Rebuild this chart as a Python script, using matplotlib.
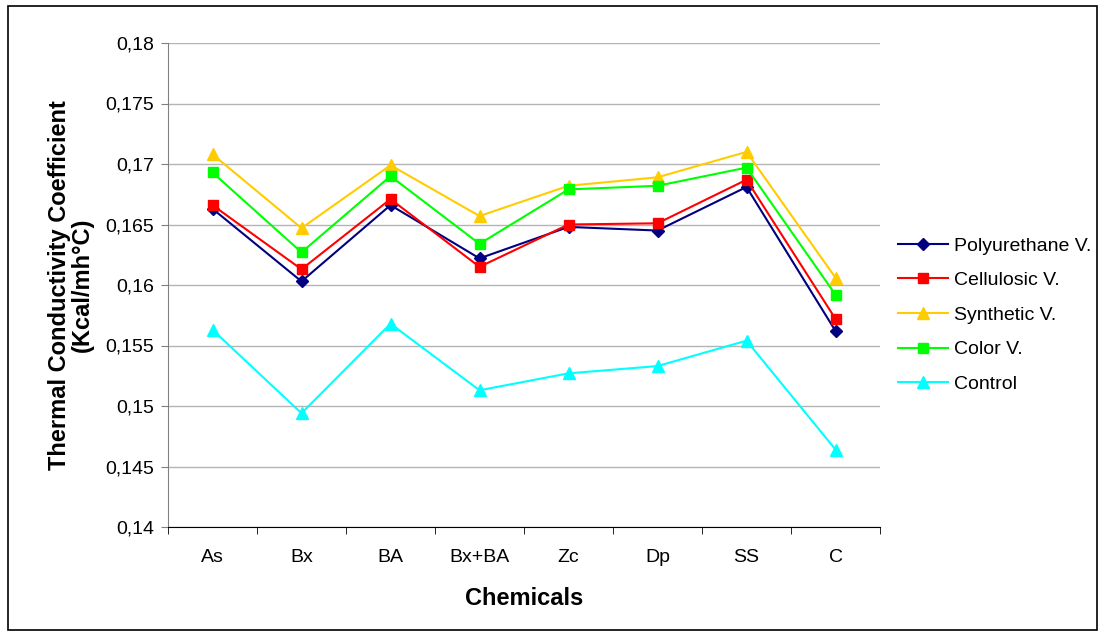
import matplotlib.pyplot as plt
from matplotlib.patches import Rectangle
from matplotlib.ticker import FuncFormatter

categories = ['As', 'Bx', 'BA', 'Bx+BA', 'Zc', 'Dp', 'SS', 'C']
polyurethane = [0.1663, 0.1603, 0.1666, 0.1622, 0.1648, 0.1645, 0.1681, 0.1562]
cellulosic = [0.1666, 0.1613, 0.1671, 0.1615, 0.1650, 0.1651, 0.1687, 0.1572]
synthetic = [0.1708, 0.1647, 0.1699, 0.1657, 0.1682, 0.1689, 0.1710, 0.1606]
color_v = [0.1693, 0.1627, 0.1690, 0.1634, 0.1679, 0.1682, 0.1697, 0.1592]
control = [0.1563, 0.1494, 0.1568, 0.1513, 0.1527, 0.1533, 0.1554, 0.1464]

series = [
    ('Polyurethane V.', polyurethane, '#000080', 'D', 6),
    ('Cellulosic V.', cellulosic, '#FF0000', 's', 6.5),
    ('Synthetic V.', synthetic, '#FFCC00', '^', 8),
    ('Color V.', color_v, '#00FF00', 's', 6.5),
    ('Control', control, '#00FFFF', '^', 8),
]

plt.rcParams['font.family'] = ['Liberation Sans', 'DejaVu Sans']

fig = plt.figure(figsize=(11.05, 6.36), dpi=100)
ax = fig.add_axes([168 / 1105, 1 - 527 / 636, 712 / 1105, 484 / 636])

x = list(range(len(categories)))
for name, vals, col, mk, ms in series:
    ax.plot(x, vals, color=col, marker=mk, markersize=ms, linewidth=1.5,
            markeredgecolor=col, label=name, clip_on=False, zorder=3)

ax.set_xlim(-0.5, len(categories) - 0.5)
ax.set_ylim(0.14, 0.18)
ax.set_yticks([0.14 + 0.005 * i for i in range(9)])
ax.yaxis.set_major_formatter(FuncFormatter(
    lambda v, p: ('%.3f' % v).rstrip('0').replace('.', ',')))
ax.grid(axis='y', color='#b4b4b4', linewidth=1)
ax.set_axisbelow(True)

ax.set_xticks(x)
ax.set_xticklabels(categories)
ax.set_xticks([i - 0.5 for i in range(len(categories) + 1)], minor=True)
ax.tick_params(axis='x', which='major', length=0, pad=16, labelsize=14)
ax.tick_params(axis='x', which='minor', length=5, direction='out', color='black')
ax.tick_params(axis='y', length=5, direction='out', color='#808080', labelsize=14, pad=5)

for s in ['top', 'right']:
    ax.spines[s].set_visible(False)
ax.spines['left'].set_color('#808080')
ax.spines['bottom'].set_color('black')

ax.set_xlabel('Chemicals', fontsize=17, fontweight='bold', labelpad=15)
ax.set_ylabel('Thermal Conductivity Coefficient\n(Kcal/mh°C)', fontsize=17,
              fontweight='bold', labelpad=8, linespacing=1.0)

ax.legend(loc='center left', bbox_to_anchor=(1.0, 0.438), frameon=False,
          fontsize=14, handlelength=2.6, handletextpad=0.3, labelspacing=0.87)

fig.patches.append(Rectangle((8 / 1105, 6 / 636), 1089 / 1105, 624 / 636,
                             transform=fig.transFigure, fill=False,
                             edgecolor='black', linewidth=1.2))

fig.savefig('out.png', dpi=100)
